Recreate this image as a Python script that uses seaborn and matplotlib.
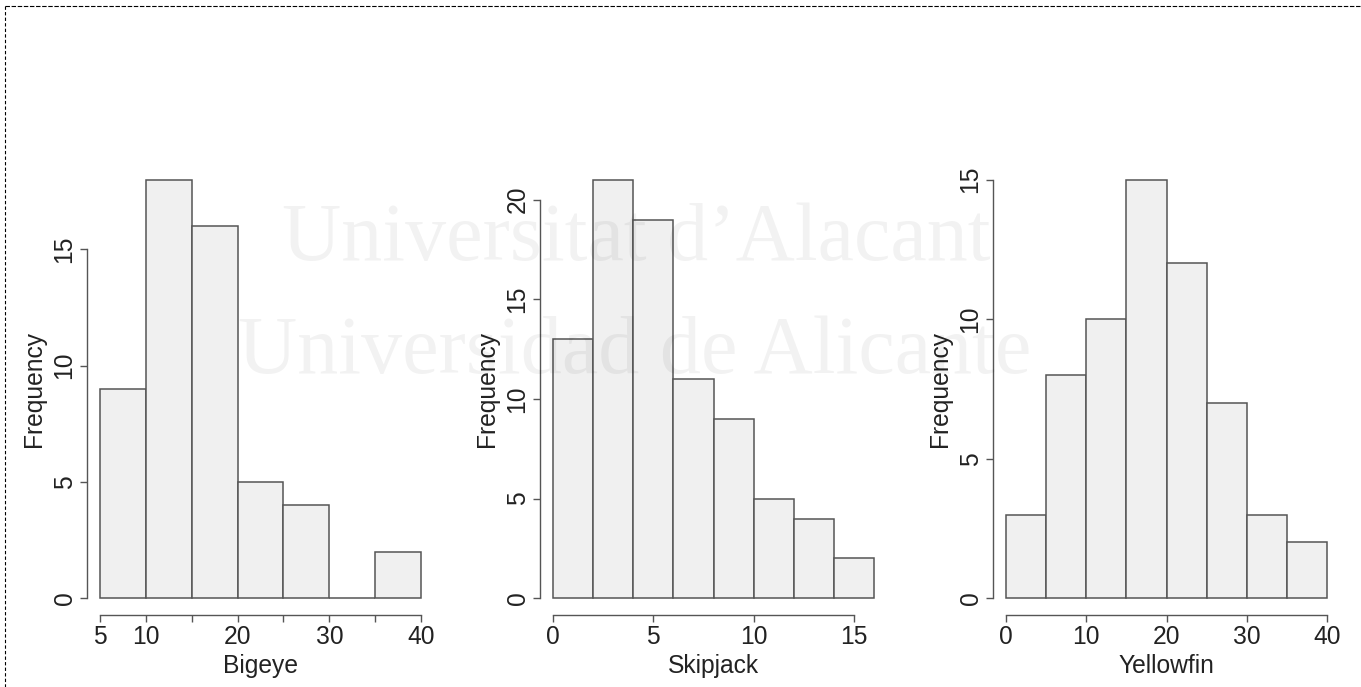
import numpy as np
import pandas as pd
import matplotlib
matplotlib.use("Agg")
import matplotlib.pyplot as plt
from matplotlib.lines import Line2D
import seaborn as sns

# --- data (bin breaks and counts) ---
bigeye_breaks = [5, 10, 15, 20, 25, 30, 35, 40]
bigeye_counts = [9, 18, 16, 5, 4, 0, 2]
bigeye_xticks = [5, 10, 15, 20, 25, 30, 35, 40]
bigeye_xlabels = ["5", "10", "", "20", "", "30", "", "40"]
bigeye_yticks = [0, 5, 10, 15]

skipjack_breaks = [0, 2, 4, 6, 8, 10, 12, 14, 16]
skipjack_counts = [13, 21, 19, 11, 9, 5, 4, 2]
skipjack_xticks = [0, 5, 10, 15]
skipjack_xlabels = ["0", "5", "10", "15"]
skipjack_yticks = [0, 5, 10, 15, 20]

yellowfin_breaks = [0, 5, 10, 15, 20, 25, 30, 35, 40]
yellowfin_counts = [3, 8, 10, 15, 12, 7, 3, 2]
yellowfin_xticks = [0, 10, 20, 30, 40]
yellowfin_xlabels = ["0", "10", "20", "30", "40"]
yellowfin_yticks = [0, 5, 10, 15]

species = ["Bigeye", "Skipjack", "Yellowfin"]
ylabel = "Frequency"
watermark = ["Universitat d\u2019Alacant", "Universidad de Alicante"]

sns.set_style("white")
plt.rcParams["font.family"] = ["Liberation Sans", "DejaVu Sans"]

TXT = "#222222"
AX = "#555555"
FS = 17.7

W, H = 1361, 687
fig = plt.figure(figsize=(W / 100, H / 100), dpi=100)

# R-like plot regions (pixels: left, top, right, bottom)
regions = [(87, 163, 434, 615), (540, 163, 887, 615), (993, 163, 1340, 615)]

panels = [
    (bigeye_breaks, bigeye_counts, bigeye_xticks, bigeye_xlabels, bigeye_yticks),
    (skipjack_breaks, skipjack_counts, skipjack_xticks, skipjack_xlabels, skipjack_yticks),
    (yellowfin_breaks, yellowfin_counts, yellowfin_xticks, yellowfin_xlabels, yellowfin_yticks),
]

for (l, t, r, b), name, (breaks, counts, xt, xl, yt) in zip(regions, species, panels):
    ax = fig.add_axes([l / W, 1 - b / H, (r - l) / W, (b - t) / H])
    mids = [(breaks[i] + breaks[i + 1]) / 2 for i in range(len(counts))]
    df = pd.DataFrame({name: mids, "n": counts})
    sns.histplot(data=df, x=name, weights="n", bins=breaks, ax=ax,
                 color="#f0f0f0", edgecolor="#555555", linewidth=1.1, alpha=1)

    # R's 4% axis expansion
    x0, x1 = breaks[0], breaks[-1]
    dx = 0.04 * (x1 - x0)
    ymax = max(counts)
    dy = 0.04 * ymax
    ax.set_xlim(x0 - dx, x1 + dx)
    ax.set_ylim(-dy, ymax + dy)

    ax.set_xticks(xt)
    ax.set_xticklabels(xl)
    ax.set_yticks(yt)
    ax.set_yticklabels([str(v) for v in yt], rotation=90, va="center")

    for s in ["top", "right"]:
        ax.spines[s].set_visible(False)
    ax.spines["left"].set_bounds(yt[0], yt[-1])
    ax.spines["bottom"].set_bounds(xt[0], xt[-1])
    for s in ["left", "bottom"]:
        ax.spines[s].set_color(AX)
        ax.spines[s].set_linewidth(1.0)

    ax.tick_params(axis="both", length=5, width=1.0, color=AX, labelsize=FS,
                   labelcolor=TXT, pad=2.5, bottom=True, left=True)
    ax.set_xlabel(name, fontsize=FS, color=TXT, labelpad=3)
    ax.set_ylabel(ylabel, fontsize=FS, color=TXT, labelpad=5)
    ax.grid(False)
    ax.set_facecolor("none")

# faint watermark of the source document
fig.text(636 / W, 1 - 260 / H, watermark[0], ha="center", va="baseline",
         family=["Liberation Serif", "DejaVu Serif"], fontsize=59,
         color="black", alpha=0.05, zorder=10)
fig.text(635 / W, 1 - 373 / H, watermark[1], ha="center", va="baseline",
         family=["Liberation Serif", "DejaVu Serif"], fontsize=59,
         color="black", alpha=0.05, zorder=10)

# dashed frame (top and left edges visible)
fig.add_artist(Line2D([5 / W, 1.0], [1 - 6 / H, 1 - 6 / H], transform=fig.transFigure,
                      color="black", linewidth=0.8, linestyle=(0, (4, 1.5))))
fig.add_artist(Line2D([5 / W, 5 / W], [1 - 6 / H, 0.0], transform=fig.transFigure,
                      color="black", linewidth=0.8, linestyle=(0, (3, 2))))

fig.savefig("out.png", dpi=100)
